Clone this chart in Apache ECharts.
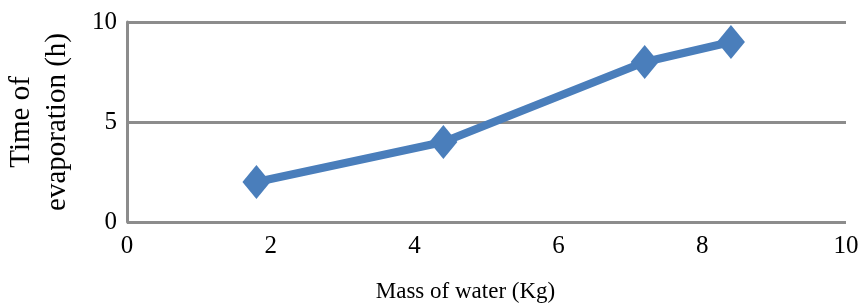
<!DOCTYPE html>
<html>
<head>
    <meta charset="utf-8">
    <title>ECharts</title>
    <script src="https://cdn.jsdelivr.net/npm/echarts@6/dist/echarts.min.js"></script>
</head>
<body style="margin:0;">
    <div id="main" style="width: 861px;height:307px;"></div>
    <script type="text/javascript">
        // data
        var massOfWater = [1.8, 4.4, 7.2, 8.4];
        var timeOfEvaporation = [2, 4, 8, 9];
        var xTicks = [0, 2, 4, 6, 8, 10];
        var yTicks = [0, 5, 10];

        var points = massOfWater.map(function (m, i) {
            return [m, timeOfEvaporation[i]];
        });

        var myChart = echarts.init(document.getElementById('main'));
        var font = 'Liberation Serif';

        myChart.setOption({
            animation: false,
            grid: {
                left: 127,
                right: 15,
                top: 22,
                bottom: 85,
                outerBoundsMode: 'none'
            },
            xAxis: {
                type: 'value',
                min: xTicks[0],
                max: xTicks[xTicks.length - 1],
                interval: 2,
                name: 'Mass of water (Kg)',
                nameLocation: 'middle',
                nameGap: 58,
                nameTextStyle: { fontFamily: font, fontSize: 23, color: '#000', padding: [0, 42, 0, 0] },
                axisLine: { show: false },
                axisTick: { show: false },
                splitLine: { show: false },
                axisLabel: { fontFamily: font, fontSize: 25, color: '#000', margin: 12 }
            },
            yAxis: {
                type: 'value',
                min: yTicks[0],
                max: yTicks[yTicks.length - 1],
                interval: 5,
                name: 'Time of\nevaporation (h)',
                nameLocation: 'middle',
                nameRotate: 90,
                nameGap: 52,
                nameTextStyle: { fontFamily: font, fontSize: 29, color: '#000', lineHeight: 36 },
                axisLine: { show: true, lineStyle: { color: '#8c8c8c', width: 3 } },
                axisTick: { show: false },
                splitLine: { show: true, lineStyle: { color: '#8c8c8c', width: 3 } },
                axisLabel: { fontFamily: font, fontSize: 25, color: '#000', margin: 10 }
            },
            series: [{
                type: 'line',
                data: points,
                symbol: 'diamond',
                symbolSize: [28, 34],
                lineStyle: { color: '#4a7ebb', width: 8 },
                itemStyle: { color: '#4a7ebb' }
            }]
        });
    </script>
</body>
</html>
